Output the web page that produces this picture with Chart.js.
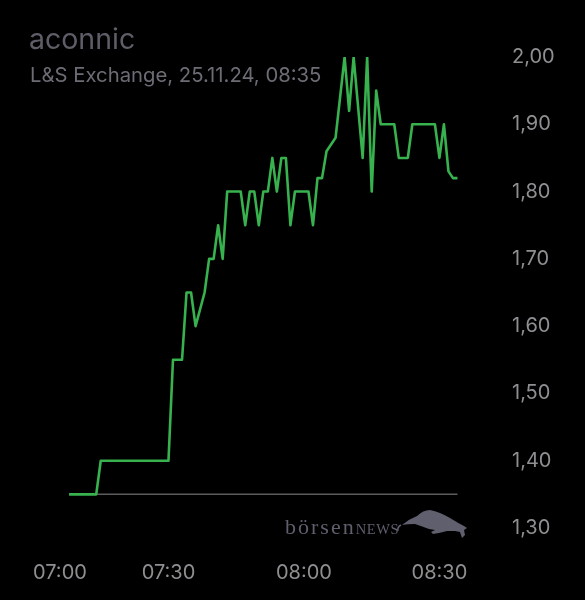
<!DOCTYPE html>
<html>
<head>
<meta charset="utf-8">
<script src="https://cdn.jsdelivr.net/npm/chart.js@4.4.1/dist/chart.umd.min.js"></script>
<style>
  body { margin: 0; background: #000; }
  #wrap { position: relative; width: 585px; height: 600px; background: #000; }
  #chart { position: absolute; left: 0; top: 0; }
  .title { position: absolute; left: 29px; top: 22px; font: 28.5px Inter, sans-serif; line-height: 1.21; color: #5e5e68; }
  .sub { position: absolute; left: 30px; top: 63px; font: 20.3px Inter, sans-serif; line-height: 1.21; color: #6c6c75; }
  .logo { position: absolute; left: 285px; top: 514px; font-family: "Liberation Serif", serif; color: #5f5f6d; white-space: nowrap; }
  .logo .b { font-size: 22px; letter-spacing: 2px; }
  .logo .n { font-size: 14.5px; letter-spacing: 0.6px; }
  .bull { position: absolute; left: 395px; top: 500px; }
</style>
</head>
<body>
<div id="wrap">
  <canvas id="chart" width="585" height="600"></canvas>
  <div class="title">aconnic</div>
  <div class="sub">L&amp;S Exchange, 25.11.24, 08:35</div>
  <div class="logo"><span class="b">börsen</span><span class="n">NEWS</span></div>
  <svg class="bull" width="80" height="45" viewBox="0 0 80 45">
    <path fill="#5f5f6d" d="M7,25 Q14,19 22,16 Q28,10 35,10 Q45,12 55,18 Q63,23 69,26 L72,28 L69,30 L70,35 L67,38 L65,32 L60,31 L52,31 L44,33 L38,34 L36,32 L40,30 L34,29 Q26,26 20,24 Q12,24 7,25 Z"/>
    <path fill="none" stroke="#5f5f6d" stroke-width="1.5" d="M6,25 Q2,27 3,31"/>
  </svg>
</div>
<script>
// price ticks, L&S Exchange
const times = ["07:08","07:14","07:15","07:30","07:31","07:33","07:34","07:35","07:36","07:38",
  "07:39","07:40","07:41","07:42","07:43","07:46","07:47","07:48","07:49","07:50",
  "07:51","07:52","07:53","07:54","07:55","07:56","07:57","07:58","08:01","08:02",
  "08:03","08:04","08:05","08:07","08:09","08:10","08:11","08:13","08:14","08:15",
  "08:16","08:17","08:20","08:21","08:23","08:24","08:29","08:30","08:31","08:32",
  "08:33","08:34"];
const prices = [1.35,1.35,1.40,1.40,1.55,1.55,1.65,1.65,1.60,1.65,
  1.70,1.70,1.75,1.70,1.80,1.80,1.75,1.80,1.80,1.75,
  1.80,1.80,1.85,1.80,1.85,1.85,1.75,1.80,1.80,1.75,
  1.82,1.82,1.86,1.88,2.00,1.92,2.00,1.85,2.00,1.80,
  1.95,1.90,1.90,1.85,1.85,1.90,1.90,1.85,1.90,1.83,
  1.82,1.82];
const prevClose = 1.35;
const xTickLabels = ["07:00","07:30","08:00","08:30"];
const yTicks = [1.30,1.40,1.50,1.60,1.70,1.80,1.90,2.00];
const xStart = "07:00";
const xEnd = "08:35";

// minutes after 07:00
function toMin(t) {
    const p = t.split(":");
    return (+p[0]) * 60 + (+p[1]) - 7 * 60;
}

const priceData = times.map((t, i) => ({ x: toMin(t), y: prices[i] }));
const closeData = [
    { x: toMin(times[0]), y: prevClose },
    { x: toMin(times[times.length - 1]), y: prevClose }
];

const ctx = document.getElementById("chart").getContext("2d");
new Chart(ctx, {
    type: "line",
    data: {
        datasets: [
            {
                data: priceData,
                borderColor: "#37b24f",
                borderWidth: 2.6,
                pointRadius: 0,
                tension: 0,
                borderJoinStyle: "round",
                fill: false
            },
            {
                data: closeData,
                borderColor: "#5c5c5c",
                borderWidth: 1.5,
                pointRadius: 0,
                fill: false
            }
        ]
    },
    options: {
        responsive: false,
        animation: false,
        layout: { padding: { left: 31, top: 57, right: 0, bottom: 0 } },
        plugins: {
            legend: { display: false },
            tooltip: { enabled: false }
        },
        scales: {
            x: {
                type: "linear",
                min: toMin(xStart),
                max: toMin(xEnd),
                grid: { display: false, drawTicks: false },
                border: { display: false },
                afterBuildTicks: (axis) => {
                    const t = xTickLabels.map(l => ({ value: toMin(l) }));
                    t.push({ value: toMin(xEnd) });
                    axis.ticks = t;
                },
                afterFit: (axis) => { axis.height = 72; },
                ticks: {
                    autoSkip: false,
                    maxRotation: 0,
                    align: "inner",
                    padding: 33,
                    color: "#8f8f93",
                    font: { family: "Inter", size: 20 },
                    callback: (val) => {
                        const idx = xTickLabels.findIndex(l => toMin(l) === val);
                        return idx >= 0 ? xTickLabels[idx] : "";
                    }
                }
            },
            y: {
                position: "right",
                min: yTicks[0],
                max: yTicks[yTicks.length - 1],
                // invisible tick marks push the labels away from the plot
                grid: { display: false, drawTicks: true, tickLength: 46 },
                border: { display: false },
                afterBuildTicks: (axis) => {
                    axis.ticks = yTicks.map(v => ({ value: v }));
                },
                afterFit: (axis) => { axis.width = 123; },
                ticks: {
                    padding: 4,
                    color: "#8f8f93",
                    font: { family: "Inter", size: 20 },
                    callback: (val) => val.toFixed(2).replace(".", ",")
                }
            }
        }
    }
});
</script>
</body>
</html>
